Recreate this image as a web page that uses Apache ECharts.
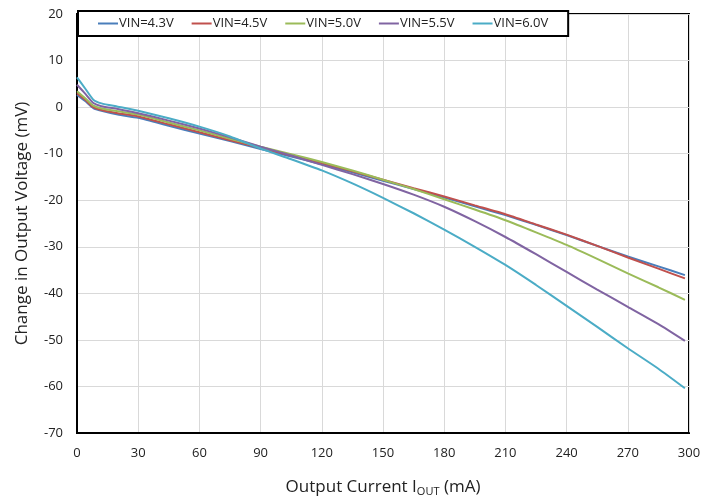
<!DOCTYPE html>
<html>
<head>
<meta charset="utf-8">
<script src="https://cdn.jsdelivr.net/npm/echarts@6/dist/echarts.min.js"></script>
<style>
  html, body { margin: 0; padding: 0; background: #fff; }
  #main { width: 720px; height: 502px; }
</style>
</head>
<body>
<div id="main"></div>
<script>
// output current (mA)
var iout = [0, 4, 8, 12, 20, 30, 45, 60, 75, 90, 105, 120, 135, 150, 165, 180, 195, 210, 225, 240, 255, 270, 285, 298];

// change in output voltage (mV), one array per VIN
var vin43 = [2.6, 1.3, -0.2, -0.8, -1.6, -2.3, -4.0, -5.7, -7.3, -9.0, -10.6, -12.3, -14.0, -15.8, -17.6, -19.4, -21.3, -23.2, -25.3, -27.5, -29.8, -32.1, -34.2, -36.1];
var vin45 = [3.0, 1.6, 0.0, -0.6, -1.3, -2.0, -3.7, -5.4, -7.1, -8.8, -10.4, -12.0, -13.8, -15.6, -17.4, -19.2, -21.1, -23.0, -25.2, -27.4, -29.8, -32.3, -34.7, -36.8];
var vin50 = [3.4, 1.9, 0.3, -0.3, -0.9, -1.6, -3.3, -5.0, -6.8, -8.5, -10.1, -11.8, -13.6, -15.6, -17.6, -19.8, -22.0, -24.3, -26.9, -29.6, -32.6, -35.7, -38.7, -41.4];
var vin55 = [4.8, 2.9, 0.9, 0.2, -0.4, -1.3, -2.9, -4.6, -6.5, -8.5, -10.4, -12.4, -14.4, -16.5, -18.8, -21.4, -24.5, -27.9, -31.6, -35.4, -39.2, -42.9, -46.6, -50.2];
var vin60 = [6.4, 4.0, 1.6, 0.8, 0.1, -0.8, -2.4, -4.2, -6.3, -8.9, -11.2, -13.6, -16.4, -19.5, -22.8, -26.3, -30.0, -33.9, -38.2, -42.7, -47.2, -51.8, -56.2, -60.4];

var names = ['VIN=4.3V', 'VIN=4.5V', 'VIN=5.0V', 'VIN=5.5V', 'VIN=6.0V'];
var colors = ['#4a7ebb', '#c0504d', '#9bbb59', '#8064a2', '#4bacc6'];
var values = [vin43, vin45, vin50, vin55, vin60];

var font = 'Open Sans';

var chart = echarts.init(document.getElementById('main'));

var series = values.map(function (v, k) {
  return {
    name: names[k],
    type: 'line',
    smooth: 0.2,
    symbol: 'none',
    data: v.map(function (y, i) { return [iout[i], y]; }),
    lineStyle: { color: colors[k], width: 2 },
    itemStyle: { color: colors[k] }
  };
});

chart.setOption({
  animation: false,
  backgroundColor: '#fff',
  textStyle: { fontFamily: font },
  grid: {
    left: 77, right: 31, top: 14, bottom: 68,
    show: true, borderColor: '#000', borderWidth: 2
  },
  legend: {
    data: names,
    left: 78, top: 11,
    backgroundColor: '#fff',
    borderColor: '#000', borderWidth: 2,
    padding: [6, 20, 6, 20],
    icon: 'rect', itemWidth: 20, itemHeight: 2,
    itemGap: 18,
    textStyle: { fontFamily: font, fontSize: 13, color: '#222', padding: [0, 0, 0, -4] }
  },
  xAxis: {
    type: 'value', min: 0, max: 300, interval: 30,
    axisLine: { show: true, onZero: false, lineStyle: { color: '#000', width: 2 } },
    axisTick: { show: false },
    axisLabel: { fontFamily: font, fontSize: 13, color: '#222', margin: 14 },
    splitLine: { lineStyle: { color: '#d9d9d9', width: 1 } },
    name: 'Output Current I{sub|OUT} (mA)',
    nameLocation: 'middle', nameGap: 44,
    nameTextStyle: {
      fontFamily: font, fontSize: 17, color: '#222',
      rich: { sub: { fontFamily: font, fontSize: 11, color: '#222', padding: [9, 0, 0, 0] } }
    }
  },
  yAxis: {
    type: 'value', min: -70, max: 20, interval: 10,
    axisLine: { show: true, lineStyle: { color: '#000', width: 2 } },
    axisTick: { show: false },
    axisLabel: { fontFamily: font, fontSize: 13, color: '#222', margin: 14 },
    splitLine: { lineStyle: { color: '#d9d9d9', width: 1 } },
    name: 'Change in Output Voltage (mV)',
    nameLocation: 'middle', nameGap: 46,
    nameTextStyle: { fontFamily: font, fontSize: 17, color: '#222' }
  },
  series: series
});
</script>
</body>
</html>
